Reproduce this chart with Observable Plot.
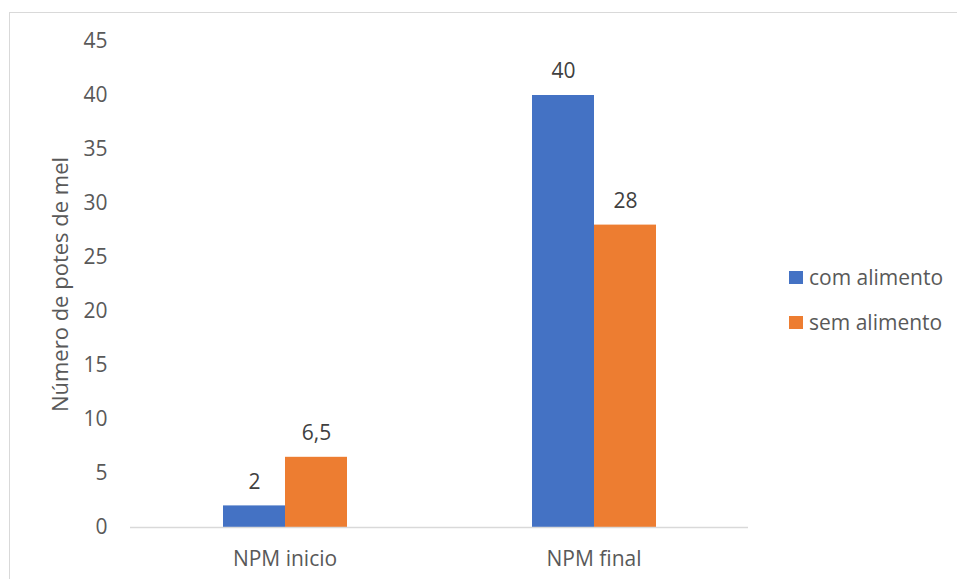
<!DOCTYPE html>
<html>
<head>
<meta charset="utf-8">
<script src="https://cdn.jsdelivr.net/npm/d3@7"></script>
<script src="https://cdn.jsdelivr.net/npm/@observablehq/plot@0.6"></script>
<style>
  html, body { margin: 0; padding: 0; background: #fff; }
  body { width: 957px; height: 579px; position: relative; overflow: hidden; font-family: "Open Sans", sans-serif; }
  #frame { position: absolute; left: 9px; top: 12px; width: 960px; height: 600px; border: 1px solid #d9d9d9; box-sizing: border-box; }
  #chart { position: absolute; left: 0; top: 0; }
  #legend { position: absolute; left: 789px; top: 262px; color: #595959; font-size: 21px; }
  .item { display: flex; align-items: center; height: 30px; margin-bottom: 15px; white-space: nowrap; }
  .sw { width: 14px; height: 13px; margin-right: 6px; }
</style>
</head>
<body>
<div id="frame"></div>
<div id="chart"></div>
<div id="legend"></div>
<script>
const categories = ["NPM inicio", "NPM final"];
const series = ["com alimento", "sem alimento"];
const comAlimento = [2, 40];
const semAlimento = [6.5, 28];
const colors = ["#4472C4", "#ED7D31"];
const yTicks = [0, 5, 10, 15, 20, 25, 30, 35, 40, 45];

const data = [];
categories.forEach((c, i) => {
  data.push({category: c, series: series[0], value: comAlimento[i]});
  data.push({category: c, series: series[1], value: semAlimento[i]});
});
const fmt = v => String(v).replace(".", ",");

const chart = Plot.plot({
  width: 957,
  height: 579,
  marginLeft: 130,
  marginRight: 209,
  marginTop: 41,
  marginBottom: 52,
  style: {fontFamily: "Open Sans, sans-serif", fontSize: "21px", color: "#595959", background: "transparent"},
  fx: {domain: categories, padding: 0, label: null, axis: null},
  x: {domain: series, paddingInner: 0, paddingOuter: 1.49, axis: null},
  y: {domain: [0, 45], ticks: yTicks, label: null, axis: null},
  color: {domain: series, range: colors},
  marks: [
    Plot.barY(data, {fx: "category", x: "series", y: "value", fill: "series", inset: 0}),
    Plot.ruleY([0], {stroke: "#d9d9d9", strokeWidth: 1.5}),
    Plot.text(data, {fx: "category", x: "series", y: "value", text: d => fmt(d.value), dy: -24, fill: "#404040", fontSize: 21}),
    Plot.axisY({ticks: yTicks, tickSize: 0, tickPadding: 23, label: null, fontSize: 21, fill: "#595959"}),
    Plot.axisFx({anchor: "bottom", tickSize: 0, tickPadding: 24, label: null, fontSize: 21, fill: "#595959"}),
    Plot.text(["Número de potes de mel"], {frameAnchor: "left", textAnchor: "middle", rotate: -90, dx: -70, fontSize: 22, fill: "#595959", facet: "super"})
  ]
});
document.getElementById("chart").appendChild(chart);

const legend = document.getElementById("legend");
series.forEach((s, i) => {
  const item = document.createElement("div");
  item.className = "item";
  const sw = document.createElement("div");
  sw.className = "sw";
  sw.style.background = colors[i];
  const t = document.createElement("span");
  t.textContent = s;
  item.appendChild(sw);
  item.appendChild(t);
  legend.appendChild(item);
});
</script>
</body>
</html>
